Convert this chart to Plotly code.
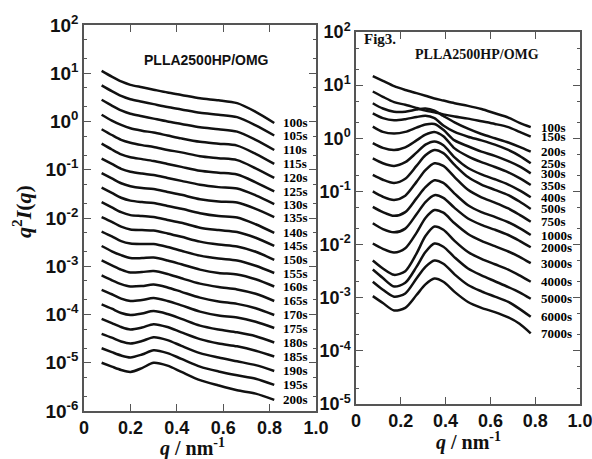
import numpy as np
import plotly.graph_objects as go

# ---------------- data (log10 of q^2 I(q)) ----------------
q_left = [0.076, 0.12, 0.16, 0.20, 0.25, 0.30, 0.36, 0.42, 0.50, 0.58, 0.66, 0.74, 0.82]
labels_left = ["100s", "105s", "110s", "115s", "120s", "125s", "130s", "135s", "140s", "145s",
               "150s", "155s", "160s", "165s", "170s", "175s", "180s", "185s", "190s", "195s", "200s"]

L100 = [1.05, 0.93, 0.83, 0.76, 0.71, 0.66, 0.60, 0.55, 0.48, 0.44, 0.38, 0.20, -0.03]
L105 = [0.75, 0.63, 0.53, 0.46, 0.41, 0.36, 0.30, 0.25, 0.18, 0.14, 0.09, -0.08, -0.29]
L110 = [0.45, 0.33, 0.23, 0.16, 0.11, 0.06, 0.00, -0.05, -0.12, -0.16, -0.21, -0.38, -0.59]
L115 = [0.14, 0.02, -0.07, -0.14, -0.19, -0.23, -0.29, -0.35, -0.42, -0.46, -0.50, -0.67, -0.88]
L120 = [-0.16, -0.28, -0.38, -0.44, -0.49, -0.53, -0.59, -0.64, -0.72, -0.76, -0.80, -0.97, -1.17]
L125 = [-0.46, -0.58, -0.68, -0.74, -0.78, -0.82, -0.88, -0.94, -1.02, -1.06, -1.10, -1.26, -1.45]
L130 = [-0.77, -0.88, -0.98, -1.04, -1.08, -1.11, -1.17, -1.23, -1.31, -1.36, -1.39, -1.53, -1.71]
L135 = [-1.07, -1.18, -1.28, -1.34, -1.38, -1.40, -1.46, -1.52, -1.61, -1.66, -1.68, -1.81, -1.98]
L140 = [-1.37, -1.48, -1.58, -1.64, -1.67, -1.69, -1.75, -1.81, -1.90, -1.96, -1.99, -2.13, -2.31]
L145 = [-1.67, -1.78, -1.88, -1.94, -1.96, -1.98, -2.04, -2.10, -2.20, -2.25, -2.29, -2.41, -2.58]
L150 = [-1.98, -2.08, -2.18, -2.24, -2.25, -2.26, -2.32, -2.39, -2.49, -2.55, -2.59, -2.70, -2.87]
L155 = [-2.28, -2.38, -2.48, -2.53, -2.54, -2.54, -2.60, -2.68, -2.78, -2.84, -2.88, -2.99, -3.14]
L160 = [-2.58, -2.69, -2.77, -2.83, -2.83, -2.82, -2.88, -2.96, -3.07, -3.14, -3.17, -3.27, -3.42]
L165 = [-2.88, -2.98, -3.07, -3.13, -3.12, -3.10, -3.16, -3.25, -3.36, -3.43, -3.48, -3.57, -3.72]
L170 = [-3.19, -3.29, -3.37, -3.42, -3.41, -3.38, -3.44, -3.53, -3.65, -3.73, -3.78, -3.87, -4.01]
L175 = [-3.49, -3.58, -3.67, -3.72, -3.70, -3.66, -3.72, -3.81, -3.94, -4.02, -4.06, -4.15, -4.28]
L180 = [-3.79, -3.88, -3.97, -4.01, -3.98, -3.93, -3.99, -4.09, -4.23, -4.31, -4.37, -4.45, -4.58]
L185 = [-4.09, -4.18, -4.26, -4.31, -4.27, -4.20, -4.26, -4.37, -4.51, -4.60, -4.66, -4.75, -4.87]
L190 = [-4.40, -4.48, -4.56, -4.60, -4.55, -4.47, -4.53, -4.65, -4.80, -4.89, -4.97, -5.05, -5.17]
L195 = [-4.70, -4.78, -4.85, -4.89, -4.83, -4.74, -4.80, -4.92, -5.08, -5.18, -5.26, -5.33, -5.46]
L200 = [-5.00, -5.08, -5.15, -5.19, -5.11, -5.00, -5.06, -5.19, -5.36, -5.47, -5.57, -5.64, -5.77]

left_series = [L100, L105, L110, L115, L120, L125, L130, L135, L140, L145, L150,
               L155, L160, L165, L170, L175, L180, L185, L190, L195, L200]

q_right = [0.075, 0.12, 0.17, 0.22, 0.27, 0.31, 0.35, 0.39, 0.44, 0.50, 0.56, 0.62, 0.68, 0.73, 0.78]
labels_right = ["100s", "150s", "200s", "250s", "300s", "350s", "400s", "500s", "750s",
                "1000s", "2000s", "3000s", "4000s", "5000s", "6000s", "7000s"]

R100 = [1.17, 1.08, 0.98, 0.91, 0.85, 0.80, 0.75, 0.71, 0.66, 0.61, 0.55, 0.47, 0.39, 0.29, 0.21]
R150 = [0.88, 0.78, 0.68, 0.63, 0.57, 0.52, 0.49, 0.45, 0.41, 0.37, 0.32, 0.27, 0.21, 0.12, 0.03]
R200 = [0.66, 0.56, 0.50, 0.50, 0.54, 0.56, 0.52, 0.42, 0.30, 0.18, 0.08, 0.00, -0.08, -0.16, -0.25]
R250 = [0.47, 0.38, 0.34, 0.36, 0.40, 0.425, 0.38, 0.24, 0.12, 0.03, -0.04, -0.12, -0.22, -0.33, -0.47]
R300 = [0.22, 0.12, 0.09, 0.12, 0.20, 0.26, 0.27, 0.16, -0.04, -0.15, -0.25, -0.33, -0.43, -0.53, -0.66]
R350 = [-0.09, -0.18, -0.22, -0.17, -0.04, 0.07, 0.12, 0.04, -0.19, -0.34, -0.45, -0.54, -0.64, -0.75, -0.88]
R400 = [-0.38, -0.47, -0.52, -0.45, -0.27, -0.12, -0.06, -0.13, -0.36, -0.56, -0.68, -0.77, -0.87, -0.98, -1.11]
R500 = [-0.69, -0.78, -0.84, -0.76, -0.52, -0.32, -0.22, -0.28, -0.50, -0.73, -0.87, -0.97, -1.07, -1.19, -1.33]
R750 = [-1.00, -1.10, -1.16, -1.08, -0.82, -0.60, -0.47, -0.52, -0.73, -0.97, -1.11, -1.21, -1.32, -1.44, -1.57]
R1000 = [-1.29, -1.39, -1.46, -1.39, -1.13, -0.92, -0.79, -0.84, -1.04, -1.26, -1.39, -1.48, -1.58, -1.69, -1.82]
R2000 = [-1.60, -1.71, -1.77, -1.70, -1.43, -1.20, -1.07, -1.12, -1.31, -1.51, -1.63, -1.72, -1.82, -1.93, -2.05]
R3000 = [-1.98, -2.08, -2.15, -2.07, -1.78, -1.50, -1.35, -1.40, -1.60, -1.80, -1.93, -2.03, -2.13, -2.23, -2.35]
R4000 = [-2.30, -2.45, -2.57, -2.50, -2.17, -1.84, -1.66, -1.72, -1.93, -2.14, -2.27, -2.37, -2.47, -2.58, -2.70]
R5000 = [-2.47, -2.63, -2.79, -2.72, -2.42, -2.14, -1.98, -2.04, -2.24, -2.45, -2.58, -2.69, -2.80, -2.90, -3.02]
R6000 = [-2.70, -2.85, -2.98, -2.92, -2.64, -2.42, -2.30, -2.36, -2.56, -2.76, -2.88, -2.98, -3.08, -3.21, -3.36]
R7000 = [-2.97, -3.10, -3.24, -3.19, -2.95, -2.75, -2.64, -2.70, -2.89, -3.08, -3.19, -3.27, -3.37, -3.49, -3.67]

right_series = [R100, R150, R200, R250, R300, R350, R400, R500, R750,
                R1000, R2000, R3000, R4000, R5000, R6000, R7000]

x_ticks = [0, 0.2, 0.4, 0.6, 0.8, 1.0]
x_ticktext = ["0", "0.2", "0.4", "0.6", "0.8", "1.0"]
left_decades = [-6, -5, -4, -3, -2, -1, 0, 1, 2]
right_decades = [-5, -4, -3, -2, -1, 0, 1, 2]

# ---------------- figure ----------------
SANS = "Liberation Sans"
SERIF = "Liberation Serif"
LINE = "#111111"
AX = "#555555"

fig = go.Figure()

for name, vals in zip(labels_left, left_series):
    fig.add_trace(go.Scatter(x=q_left, y=10 ** np.array(vals), mode="lines",
                             line=dict(color=LINE, width=2.5, shape="spline", smoothing=0.8),
                             xaxis="x", yaxis="y", showlegend=False, hoverinfo="skip"))
    fig.add_annotation(x=q_left[-1], y=vals[-1], xref="x", yref="y", text=name,
                       showarrow=False, xanchor="left", yanchor="middle", xshift=7,
                       font=dict(family=SERIF, size=13, color="#000", weight="bold"))

for name, vals in zip(labels_right, right_series):
    fig.add_trace(go.Scatter(x=q_right, y=10 ** np.array(vals), mode="lines",
                             line=dict(color=LINE, width=2.5, shape="spline", smoothing=0.8),
                             xaxis="x2", yaxis="y2", showlegend=False, hoverinfo="skip"))
    fig.add_annotation(x=q_right[-1], y=vals[-1], xref="x2", yref="y2", text=name,
                       showarrow=False, xanchor="left", yanchor="middle", xshift=8,
                       font=dict(family=SERIF, size=13, color="#000", weight="bold"))

def xax(domain, anchor):
    return dict(domain=domain, anchor=anchor, range=[0, 1.0], tickvals=x_ticks, ticktext=x_ticktext,
                ticks="inside", ticklen=7, tickwidth=1.2, tickcolor=AX, showline=True, linecolor=AX,
                linewidth=1.5, mirror="ticks", showgrid=False, zeroline=False, automargin=False,
                ticklabeloverflow="allow",
                tickfont=dict(family=SANS, size=18, color="#111", weight="bold"))

def yax(domain, anchor, decades, size):
    return dict(domain=domain, anchor=anchor, type="log", range=[decades[0], decades[-1]],
                tickvals=[10.0 ** d for d in decades],
                ticktext=["10<sup>%d</sup>" % d for d in decades],
                ticks="inside", ticklen=7, tickwidth=1.2, tickcolor=AX, showline=True, linecolor=AX,
                linewidth=1.5, mirror="ticks", showgrid=False, zeroline=False, automargin=False,
                ticklabeloverflow="allow",
                minor=dict(ticks="inside", ticklen=3, tickcolor=AX, tickwidth=1, showgrid=False),
                tickfont=dict(family=SANS, size=size, color="#111", weight="bold"))

fig.update_layout(
    width=592, height=459, margin=dict(l=0, r=0, t=0, b=0, pad=0, autoexpand=False),
    paper_bgcolor="white", plot_bgcolor="white",
    xaxis=xax([84 / 592, 316 / 592], "y"),
    yaxis=yax([48 / 459, 434 / 459], "x", left_decades, 19),
    xaxis2=xax([356 / 592, 580 / 592], "y2"),
    yaxis2=yax([55 / 459, 427 / 459], "x2", right_decades, 18),
)

def note(x, y, text, font, angle=0, xanchor="center"):
    fig.add_annotation(x=x / 592, y=1 - y / 459, xref="paper", yref="paper", text=text,
                       showarrow=False, xanchor=xanchor, yanchor="middle", textangle=angle,
                       font=font)

note(206, 60, "PLLA2500HP/OMG", dict(family=SANS, size=14, color="#111", weight="bold"))
note(477, 55, "PLLA2500HP/OMG", dict(family=SERIF, size=14, color="#111", weight="bold"))
note(362, 39, "Fig3.", dict(family=SERIF, size=15, color="#111", weight="bold"), xanchor="left")
note(193, 447, "<i>q</i> / nm<sup>-1</sup>", dict(family=SERIF, size=20, color="#111", weight="bold"))
note(468, 441, "<i>q</i> / nm<sup>-1</sup>", dict(family=SERIF, size=20, color="#111", weight="bold"))
note(22, 212, "<i>q</i><sup>2</sup><i>I</i>(<i>q</i>)",
     dict(family=SERIF, size=22, color="#111", weight="bold"), angle=-90)

fig.write_html("out.html", config={"displayModeBar": False},
               post_script="document.body.style.margin='0';document.body.style.overflow='hidden';")
